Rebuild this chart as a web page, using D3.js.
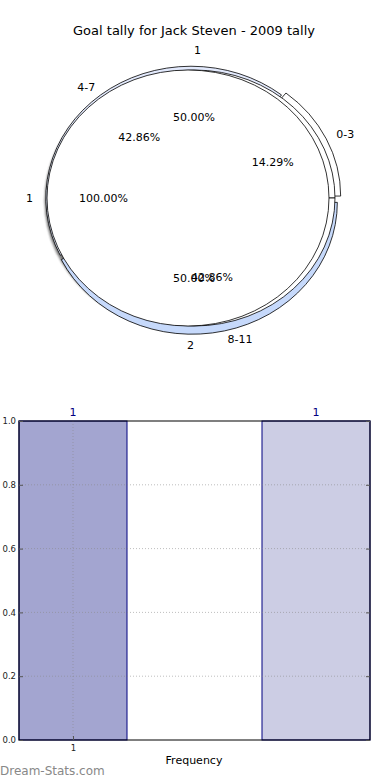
<!DOCTYPE html>
<html>
<head>
<meta charset="utf-8">
<script src="https://cdn.jsdelivr.net/npm/d3@7"></script>
<style>
  body { margin: 0; background: #fff; }
  svg { display: block; font-family: "DejaVu Sans", sans-serif; }
</style>
</head>
<body>
<div id="vis"></div>
<script>
// data
var title = "Goal tally for Jack Steven - 2009 tally";
var rangeLabels = ["0-3", "4-7", "8-11"];
var rangeValues = [1, 3, 3];          // 14.29% / 42.86% / 42.86%
var rangeColors = ["#ffffff", "#e3eafd", "#c6d9fb"];
var rangeExplode = [0.035, 0, 0.035];
var gameLabels = ["1", "2"];
var gameValues = [1, 1];              // 50% / 50%
var allLabels = ["1"];
var allValues = [1];                  // 100%

var barPos = [1, 2.8];
var barValues = [1, 1];
var barLabels = ["1", "1"];
var barColors = ["#a3a5d0", "#cccde4"];
var yTicks = [0, 0.2, 0.4, 0.6, 0.8, 1.0];
var xTicks = [1];

var w = 390, h = 780;

var svg = d3.select("#vis").append("svg")
  .attr("width", w)
  .attr("height", h);

svg.append("text")
  .attr("x", 194).attr("y", 35)
  .attr("text-anchor", "middle")
  .style("font-size", "13px")
  .text(title);

// ---- nested pies (ellipse, matplotlib style: start at 3 o'clock, ccw) ----
var rx = 141, ry = 128, cy = 198;

var pie = d3.pie().sort(null).value(d => d)
  .startAngle(Math.PI / 2).endAngle(Math.PI / 2 - 2 * Math.PI);

function mplAngle(d) { return Math.PI / 2 - (d.startAngle + d.endAngle) / 2; }

var defs = svg.append("defs");
defs.append("filter").attr("id", "blur")
  .append("feGaussianBlur").attr("stdDeviation", 1.2);

// shadow
svg.append("ellipse")
  .attr("cx", 187).attr("cy", cy + 3)
  .attr("rx", rx * 1.01).attr("ry", ry * 1.01)
  .attr("fill", "#333").attr("opacity", 0.65)
  .attr("filter", "url(#blur)");

function drawPie(values, cx, radius, colors, explode) {
  var arc = d3.arc().innerRadius(0).outerRadius(radius);
  var g = svg.append("g")
    .attr("transform", `translate(${cx},${cy}) scale(${rx},${ry})`);
  g.selectAll("path")
    .data(pie(values))
    .enter().append("path")
    .attr("d", arc)
    .attr("transform", (d, i) => {
      var t = mplAngle(d), e = explode ? explode[i] : 0;
      return `translate(${Math.cos(t) * e},${-Math.sin(t) * e})`;
    })
    .attr("fill", (d, i) => colors[i % colors.length])
    .attr("stroke", "#000")
    .attr("stroke-width", 0.8)
    .attr("vector-effect", "non-scaling-stroke");
  return pie(values);
}

function drawLabels(arcs, labels, cx, r, explode) {
  var total = d3.sum(arcs, d => d.value);
  arcs.forEach((d, i) => {
    var t = mplAngle(d), e = explode ? explode[i] : 0;
    var ex = Math.cos(t) * e, ey = Math.sin(t) * e;
    svg.append("text")
      .attr("x", cx + rx * (Math.cos(t) * 1.1 * r + ex))
      .attr("y", cy - ry * (Math.sin(t) * 1.1 * r + ey))
      .attr("text-anchor", Math.cos(t) > 0 ? "start" : "end")
      .attr("dominant-baseline", "central")
      .style("font-size", "11px")
      .text(labels[i]);
    svg.append("text")
      .attr("x", cx + rx * (Math.cos(t) * 0.6 * r + ex))
      .attr("y", cy - ry * (Math.sin(t) * 0.6 * r + ey))
      .attr("text-anchor", "middle")
      .attr("dominant-baseline", "central")
      .style("font-size", "11px")
      .text((100 * d.value / total).toFixed(2) + "%");
  });
}

var outerArcs = drawPie(rangeValues, 191, 1.03, rangeColors, rangeExplode);
var gameArcs = drawPie(gameValues, 194, 1.0, ["#ffffff"], null);
// single full slice: plain ellipse
svg.append("ellipse")
  .attr("cx", 188).attr("cy", cy)
  .attr("rx", rx).attr("ry", ry)
  .attr("fill", "#fff").attr("stroke", "#000").attr("stroke-width", 0.8);
var allArcs = pie(allValues);

drawLabels(outerArcs, rangeLabels, 192, 1.0, rangeExplode);
drawLabels(gameArcs, gameLabels, 194, 1.05, null);
drawLabels(allArcs, allLabels, 188, 1.0, null);

// ---- bar chart ----
var plotL = 19, plotR = 370, plotT = 421, plotB = 740;

var x = d3.scaleLinear().domain([0.6, 3.2]).range([plotL, plotR]);
var y = d3.scaleLinear().domain([0, 1]).range([plotB, plotT]);
var bw = x(0.8) - x(0);

var bars = svg.append("g");
bars.selectAll("rect")
  .data(barValues)
  .enter().append("rect")
  .attr("x", (d, i) => x(barPos[i]) - bw / 2)
  .attr("y", d => y(d))
  .attr("width", bw)
  .attr("height", d => y(0) - y(d))
  .attr("fill", (d, i) => barColors[i])
  .attr("stroke", "#000080")
  .attr("stroke-width", 1);

// grid
svg.append("g").selectAll("line")
  .data(yTicks.slice(1, -1))
  .enter().append("line")
  .attr("x1", plotL).attr("x2", plotR)
  .attr("y1", d => y(d)).attr("y2", d => y(d))
  .attr("stroke", "#888").attr("stroke-opacity", 0.55)
  .attr("stroke-dasharray", "1,2");
svg.append("g").selectAll("line")
  .data(xTicks)
  .enter().append("line")
  .attr("x1", d => x(d)).attr("x2", d => x(d))
  .attr("y1", plotT).attr("y2", plotB)
  .attr("stroke", "#888").attr("stroke-opacity", 0.55)
  .attr("stroke-dasharray", "1,2");

// frame
svg.append("rect")
  .attr("x", plotL).attr("y", plotT)
  .attr("width", plotR - plotL).attr("height", plotB - plotT)
  .attr("fill", "none").attr("stroke", "#000").attr("stroke-width", 1);

// y axis (ticks inside, labels left)
svg.append("g")
  .attr("transform", `translate(${plotL},0)`)
  .call(d3.axisLeft(y).tickValues(yTicks).tickFormat(d3.format(".1f"))
    .tickSizeInner(-4).tickSizeOuter(0).tickPadding(3))
  .call(g => g.select(".domain").remove())
  .call(g => g.selectAll("line").attr("stroke", "#555"))
  .call(g => g.selectAll("text").style("font-size", "8.5px").attr("fill", "#222")
    .style("font-family", "DejaVu Sans"));
svg.append("g")
  .attr("transform", `translate(${plotR},0)`)
  .call(d3.axisRight(y).tickValues(yTicks).tickFormat("").tickSizeInner(-4).tickSizeOuter(0))
  .call(g => g.select(".domain").remove())
  .call(g => g.selectAll("line").attr("stroke", "#555"));

// x axis
svg.append("g")
  .attr("transform", `translate(0,${plotB})`)
  .call(d3.axisBottom(x).tickValues(xTicks).tickFormat(d3.format("d"))
    .tickSizeInner(-4).tickSizeOuter(0).tickPadding(5))
  .call(g => g.select(".domain").remove())
  .call(g => g.selectAll("line").attr("stroke", "#555"))
  .call(g => g.selectAll("text").style("font-size", "8.5px").attr("fill", "#222")
    .style("font-family", "DejaVu Sans"));

// bar value labels
svg.append("g").selectAll("text")
  .data(barValues)
  .enter().append("text")
  .attr("x", (d, i) => x(barPos[i]))
  .attr("y", d => y(d) - 5)
  .attr("text-anchor", "middle")
  .attr("fill", "#000080")
  .style("font-size", "11px")
  .text((d, i) => barLabels[i]);

svg.append("text")
  .attr("x", 194).attr("y", 764)
  .attr("text-anchor", "middle")
  .style("font-size", "11px")
  .text("Frequency");

svg.append("text")
  .attr("x", 0).attr("y", 775)
  .attr("fill", "#888")
  .style("font-size", "12px")
  .text("Dream-Stats.com");
</script>
</body>
</html>
